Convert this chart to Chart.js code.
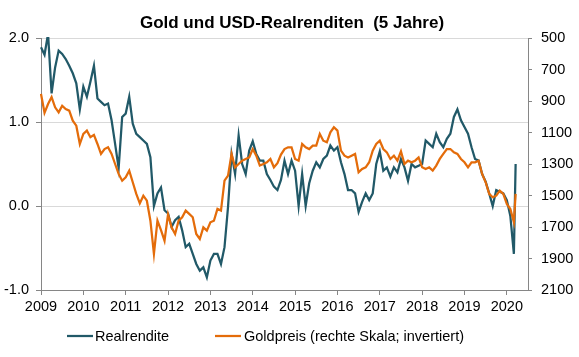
<!DOCTYPE html>
<html>
<head>
<meta charset="utf-8">
<script src="https://cdn.jsdelivr.net/npm/chart.js@4/dist/chart.umd.min.js"></script>
<style>
  html, body { margin: 0; padding: 0; background: #ffffff; }
  #wrap { width: 579px; height: 357px; position: relative; }
  canvas { display: block; }
</style>
</head>
<body>
<div id="wrap"><canvas id="c" width="579" height="357"></canvas></div>
<script>
// ---- data ----
const chartTitle = "Gold und USD-Realrenditen  (5 Jahre)";
const seriesNames = ["Realrendite", "Goldpreis (rechte Skala; invertiert)"];

const dates = [
  "2009-01","2009-02","2009-03","2009-04","2009-05","2009-06","2009-07","2009-08","2009-09","2009-10","2009-11","2009-12",
  "2010-01","2010-02","2010-03","2010-04","2010-05","2010-06","2010-07","2010-08","2010-09","2010-10","2010-11","2010-12",
  "2011-01","2011-02","2011-03","2011-04","2011-05","2011-06","2011-07","2011-08","2011-09","2011-10","2011-11","2011-12",
  "2012-01","2012-02","2012-03","2012-04","2012-05","2012-06","2012-07","2012-08","2012-09","2012-10","2012-11","2012-12",
  "2013-01","2013-02","2013-03","2013-04","2013-05","2013-06","2013-07","2013-08","2013-09","2013-10","2013-11","2013-12",
  "2014-01","2014-02","2014-03","2014-04","2014-05","2014-06","2014-07","2014-08","2014-09","2014-10","2014-11","2014-12",
  "2015-01","2015-02","2015-03","2015-04","2015-05","2015-06","2015-07","2015-08","2015-09","2015-10","2015-11","2015-12",
  "2016-01","2016-02","2016-03","2016-04","2016-05","2016-06","2016-07","2016-08","2016-09","2016-10","2016-11","2016-12",
  "2017-01","2017-02","2017-03","2017-04","2017-05","2017-06","2017-07","2017-08","2017-09","2017-10","2017-11","2017-12",
  "2018-01","2018-02","2018-03","2018-04","2018-05","2018-06","2018-07","2018-08","2018-09","2018-10","2018-11","2018-12",
  "2019-01","2019-02","2019-03","2019-04","2019-05","2019-06","2019-07","2019-08","2019-09","2019-10","2019-11","2019-12",
  "2020-01","2020-02","2020-03","2020-03-16"
];

const realYield = [
  1.89,1.80,2.05,1.34,1.65,1.85,1.81,1.75,1.67,1.58,1.46,1.15,
  1.42,1.30,1.48,1.67,1.28,1.24,1.20,1.22,1.02,0.74,0.45,1.06,
  1.10,1.30,0.98,0.86,0.82,0.78,0.74,0.58,0.00,0.15,0.22,-0.05,
  -0.09,-0.25,-0.17,-0.13,-0.29,-0.49,-0.45,-0.57,-0.69,-0.77,-0.73,-0.85,
  -0.65,-0.57,-0.57,-0.69,-0.49,-0.01,0.62,0.38,0.84,0.50,0.38,0.66,
  0.77,0.62,0.54,0.54,0.38,0.31,0.23,0.19,0.31,0.54,0.38,0.54,
  0.42,0.00,0.38,0.00,0.27,0.42,0.52,0.46,0.56,0.60,0.72,0.66,
  0.70,0.52,0.38,0.19,0.19,0.15,-0.07,0.05,0.15,0.07,0.15,0.50,
  0.65,0.42,0.46,0.35,0.46,0.40,0.56,0.46,0.30,0.50,0.46,0.48,
  0.50,0.78,0.74,0.70,0.86,0.76,0.70,0.80,0.86,1.06,1.15,1.02,
  0.94,0.86,0.70,0.56,0.54,0.38,0.29,0.15,0.00,0.19,0.17,0.15,
  0.07,-0.12,-0.57,0.50
];

const goldPrice = [
  855,975,919,875,940,972,930,951,961,1025,1057,1173,
  1109,1088,1130,1115,1173,1236,1205,1194,1236,1300,1363,1406,
  1384,1342,1416,1490,1550,1501,1533,1660,1871,1660,1720,1787,
  1620,1702,1744,1660,1638,1596,1617,1638,1744,1776,1702,1723,
  1670,1660,1585,1596,1406,1374,1236,1321,1300,1279,1268,1258,
  1205,1247,1310,1300,1289,1268,1321,1295,1240,1205,1194,1194,
  1268,1279,1173,1194,1205,1183,1183,1109,1152,1162,1099,1067,
  1088,1215,1247,1258,1247,1236,1353,1332,1321,1289,1215,1173,
  1152,1205,1226,1268,1247,1279,1220,1300,1279,1289,1279,1258,
  1321,1332,1321,1342,1310,1268,1236,1205,1205,1226,1236,1268,
  1289,1321,1289,1289,1279,1363,1416,1490,1511,1501,1469,1490,
  1554,1586,1670,1490
];

const leftTicks = [-1.0, 0.0, 1.0, 2.0];
const rightTicks = [500, 700, 900, 1100, 1300, 1500, 1700, 1900, 2100];
const yearTicks = [2009,2010,2011,2012,2013,2014,2015,2016,2017,2018,2019,2020];

// ---- helpers ----
function toYear(s) {
  const p = s.split("-").map(Number);
  const y = p[0], m = p[1], d = p.length > 2 ? p[2] : 1;
  return y + (m - 1) / 12 + (d - 1) / 365;
}
const xs = dates.map(toYear);

const FONT = 'Arial, "Liberation Sans", Helvetica, sans-serif';
const TEAL = '#215968';
const ORANGE = '#E46C0A';
const AXIS = '#868686';
const GRID = '#d9d9d9';
const TICK_SIZE = 14.5;

const overlay = {
  id: 'overlay',
  afterDraw(chart) {
    const ctx = chart.ctx;
    ctx.save();
    // title
    ctx.fillStyle = '#000';
    ctx.font = 'bold 17px ' + FONT;
    ctx.textAlign = 'center';
    ctx.textBaseline = 'alphabetic';
    ctx.fillText(chartTitle, 292, 28);
    // legend
    ctx.font = TICK_SIZE + 'px ' + FONT;
    ctx.textAlign = 'left';
    ctx.textBaseline = 'middle';
    const items = [
      { x0: 67, x1: 93, tx: 95, color: TEAL, text: seriesNames[0] },
      { x0: 215, x1: 241, tx: 244, color: ORANGE, text: seriesNames[1] }
    ];
    const ly = 336;
    items.forEach(it => {
      ctx.strokeStyle = it.color;
      ctx.lineWidth = 2.25;
      ctx.beginPath();
      ctx.moveTo(it.x0, ly);
      ctx.lineTo(it.x1, ly);
      ctx.stroke();
      ctx.fillStyle = '#000';
      ctx.fillText(it.text, it.tx, ly + 0.5);
    });
    ctx.restore();
  }
};

new Chart(document.getElementById('c'), {
  type: 'line',
  data: {
    datasets: [
      {
        label: seriesNames[1],
        data: xs.map((x, i) => ({ x: x, y: goldPrice[i] })),
        yAxisID: 'y2',
        borderColor: ORANGE,
        borderWidth: 2.25,
        pointRadius: 0,
        tension: 0,
        order: 0,
        clip: 1
      },
      {
        label: seriesNames[0],
        data: xs.map((x, i) => ({ x: x, y: realYield[i] })),
        yAxisID: 'y',
        borderColor: TEAL,
        borderWidth: 2.25,
        pointRadius: 0,
        tension: 0,
        order: 1,
        clip: 1
      }
    ]
  },
  options: {
    responsive: false,
    animation: false,
    events: [],
    layout: { padding: { top: 38, bottom: 42, left: 0, right: 0 } },
    plugins: {
      legend: { display: false },
      title: { display: false },
      tooltip: { enabled: false }
    },
    scales: {
      x: {
        type: 'linear',
        position: 'bottom',
        min: 2009,
        max: 2020.5,
        afterBuildTicks: s => { s.ticks = yearTicks.map(v => ({ value: v })); },
        ticks: {
          callback: v => String(v),
          color: '#000',
          font: { family: FONT, size: TICK_SIZE },
          padding: 3,
          maxRotation: 0,
          autoSkip: false
        },
        grid: { drawOnChartArea: false, drawTicks: true, tickLength: 5, color: AXIS },
        border: { color: AXIS, width: 1 },
        afterFit: s => { s.height = 25; }
      },
      y: {
        position: 'left',
        min: -1,
        max: 2,
        afterBuildTicks: s => { s.ticks = leftTicks.map(v => ({ value: v })); },
        ticks: {
          callback: v => Number(v).toFixed(1),
          color: '#000',
          font: { family: FONT, size: TICK_SIZE },
          padding: 7
        },
        grid: {
          color: c => (c.tick && c.tick.value === -1) ? 'rgba(0,0,0,0)' : GRID,
          tickColor: AXIS,
          tickLength: 5,
          drawTicks: true
        },
        border: { color: AXIS, width: 1 },
        afterFit: s => { s.width = 41; }
      },
      y2: {
        position: 'right',
        reverse: true,
        min: 500,
        max: 2100,
        afterBuildTicks: s => { s.ticks = rightTicks.map(v => ({ value: v })); },
        ticks: {
          callback: v => String(v),
          color: '#000',
          font: { family: FONT, size: TICK_SIZE },
          padding: 9
        },
        grid: { drawOnChartArea: false, drawTicks: true, tickLength: 4, color: AXIS },
        border: { color: AXIS, width: 1 },
        afterFit: s => { s.width = 51; }
      }
    }
  },
  plugins: [overlay]
});
</script>
</body>
</html>
